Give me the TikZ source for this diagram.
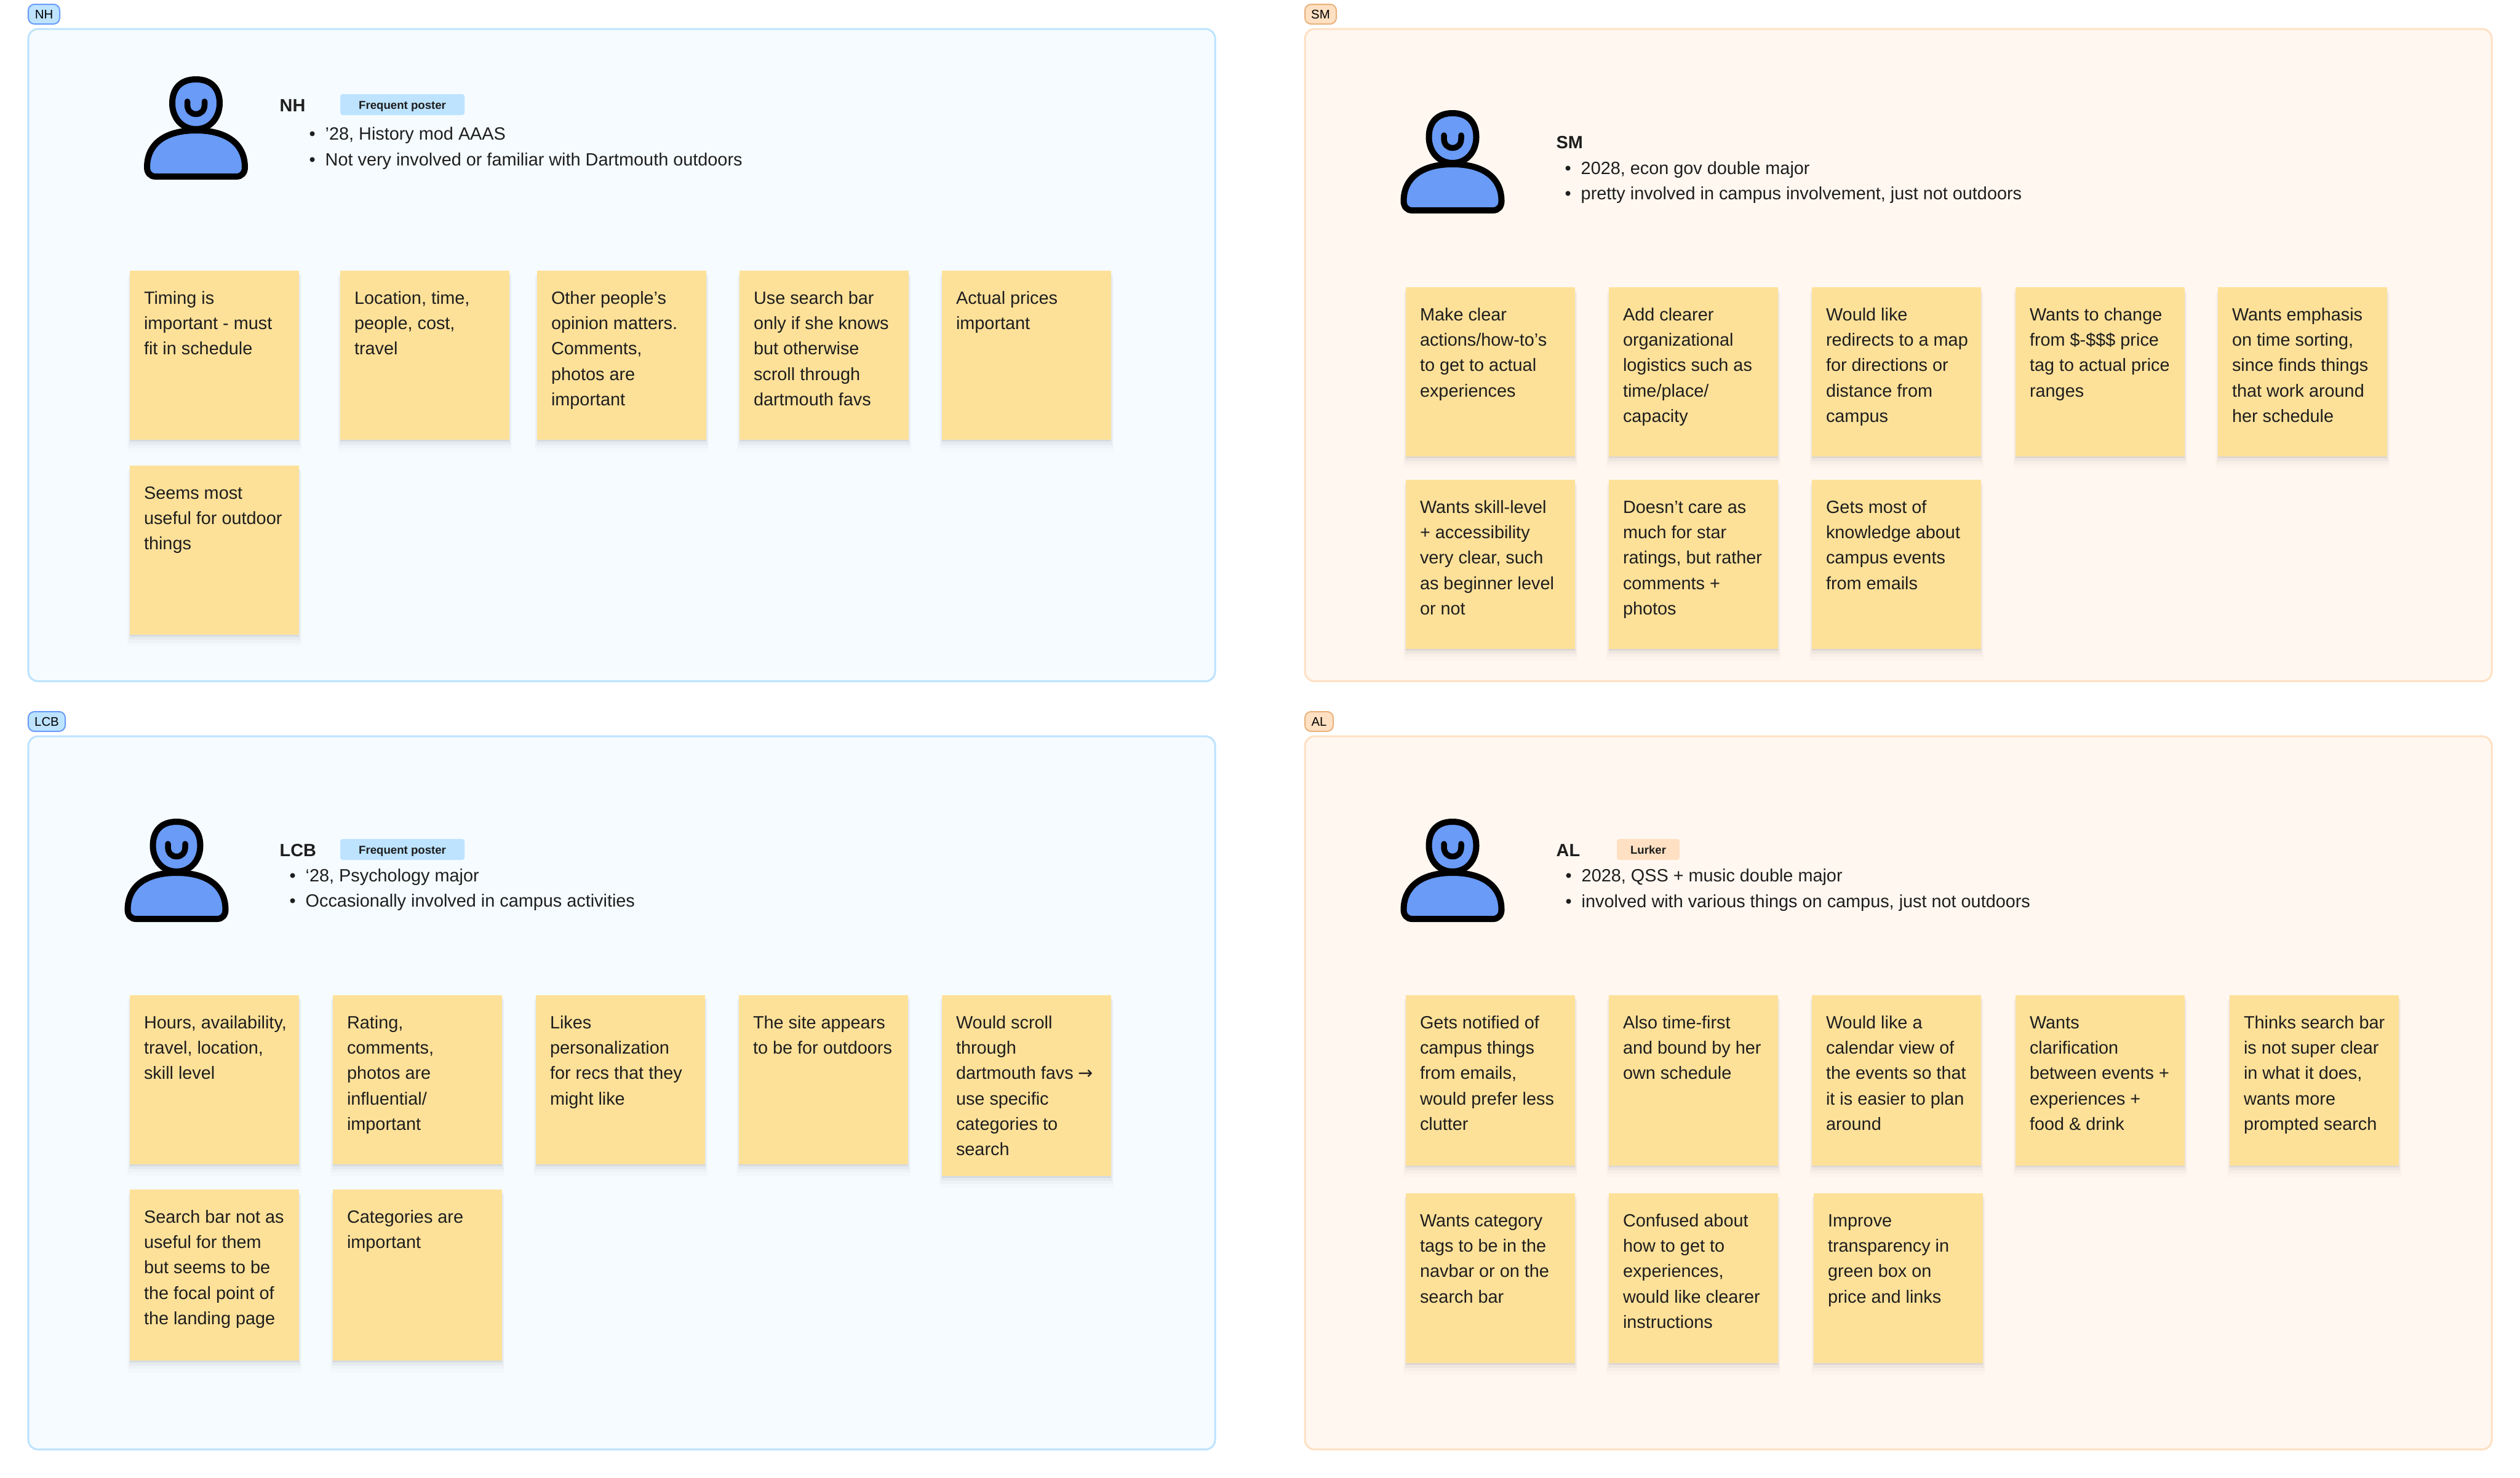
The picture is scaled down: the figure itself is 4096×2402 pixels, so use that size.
\documentclass[tikz,border=0pt]{standalone}
\usepackage{fontspec}
\setmainfont{Liberation Sans}
\newfontfamily\arrowfont{DejaVu Sans}
\usetikzlibrary{shadows}

\definecolor{inkcol}{HTML}{1E1E1E}
\definecolor{notefill}{HTML}{FEE199}
\definecolor{bluefill}{HTML}{F5FBFF}
\definecolor{blueedge}{HTML}{BDE3FF}
\definecolor{orangefill}{HTML}{FFF7F0}
\definecolor{orangeedge}{HTML}{FFE0C2}
\definecolor{iconblue}{HTML}{699BF7}

% text block of a sticky note, top aligned
\newcommand{\notetext}[2][2.75cm]{\parbox[c][#1][t]{2.75cm}{\raggedright\leftskip=.23cm\rule{0pt}{.54cm}#2}}

\tikzset{
    personicon/.pic={
        \draw[black, fill=iconblue, line width=.1cm]
            (0,5) .. controls (25,5) and (38.5,20) .. (38.5,44)
            .. controls (38.5,66) and (24,86) .. (0,86)
            .. controls (-24,86) and (-38.5,66) .. (-38.5,44)
            .. controls (-38.5,20) and (-25,5) .. (0,5) -- cycle;
        \draw[black, line width=.095cm, line cap=round]
            (-14,41) -- (-14,46) .. controls (-14,56) and (-8,61.5) .. (0,61.5)
            .. controls (8,61.5) and (14,56) .. (14,46) -- (14,41);
        \draw[black, fill=iconblue, line width=.1cm]
            (-66,163) -- (66,163) .. controls (74,163) and (79.5,157) .. (79.5,148)
            .. controls (79.5,110) and (50,88) .. (0,88)
            .. controls (-50,88) and (-79.5,110) .. (-79.5,148)
            .. controls (-79.5,157) and (-74,163) .. (-66,163) -- cycle;
    }
}

\begin{document}
\begin{tikzpicture}[
    x=.01cm, y=-.01cm,
    panel/.style    = {rectangle, rounded corners=.16cm, line width=.03cm, outer sep=0pt,
                       anchor=north west, minimum width=19.28cm},
    bluepanel/.style   = {panel, fill=bluefill, draw=blueedge},
    orangepanel/.style = {panel, fill=orangefill, draw=orangeedge},
    tagbox/.style   = {rectangle, rounded corners=.1cm, line width=.02cm, anchor=north west,
                       outer sep=0pt, minimum height=.32cm, inner sep=0pt, text=black,
                       font=\fontsize{5.8}{7}\selectfont},
    bluetag/.style   = {tagbox, fill=blueedge, draw=iconblue},
    orangetag/.style = {tagbox, fill=orangeedge, draw=orange!40!brown!60},
    badge/.style    = {rectangle, rounded corners=.04cm, anchor=north west, inner sep=0pt,
                       outer sep=0pt, minimum height=.34cm, text=inkcol,
                       text height=.17cm, text depth=.03cm,
                       font=\fontsize{5.3}{7}\selectfont\bfseries},
    namelabel/.style = {anchor=base west, inner sep=0pt, text=inkcol,
                       font=\fontsize{8.2}{10}\selectfont\bfseries},
    infoline/.style = {anchor=base west, inner sep=0pt, text=inkcol,
                       font=\fontsize{8.2}{10}\selectfont},
    note/.style     = {rectangle, fill=notefill, anchor=north west, text=inkcol,
                       inner sep=0pt, outer sep=0pt, align=left,
                       font=\fontsize{8.2}{11.75}\selectfont,
                       drop shadow={shadow xshift=0cm, shadow yshift=-.03cm, shadow scale=1, opacity=.06, fill=black},
                       drop shadow={shadow xshift=0cm, shadow yshift=-.06cm, shadow scale=1.01, opacity=.035, fill=black},
                       drop shadow={shadow xshift=0cm, shadow yshift=-.1cm, shadow scale=1.02, opacity=.02, fill=black},
                       drop shadow={shadow xshift=0cm, shadow yshift=-.14cm, shadow scale=1.03, opacity=.012, fill=black}}
]
\useasboundingbox (0,0) rectangle (4096,2402);

%% ---- PANELS ----
\node[bluepanel, minimum height=10.6cm]   (nhpanel)  at (46,47)     {};
\node[orangepanel, minimum height=10.6cm] (smpanel)  at (2121,47)   {};
\node[bluepanel, minimum height=11.59cm]  (lcbpanel) at (46,1197)   {};
\node[orangepanel, minimum height=11.59cm] (alpanel) at (2121,1197) {};

%% ---- TAGS above the panels ----
\node[bluetag, minimum width=.51cm]   (nhtag)  at (46,7)     {NH};
\node[orangetag, minimum width=.51cm] (smtag)  at (2121,7)   {SM};
\node[bluetag, minimum width=.6cm]    (lcbtag) at (46,1157)  {LCB};
\node[orangetag, minimum width=.46cm] (altag)  at (2121,1157) {AL};

%% ---- PERSON ICONS ----
\pic at (318.5,124)  {personicon};
\pic at (2361,179)   {personicon};
\pic at (287,1331)   {personicon};
\pic at (2361,1331)  {personicon};

%% ---- NH header ----
\node[namelabel] (nhname) at (454,181) {NH};
\node[badge, fill=blueedge, minimum width=2.02cm] (nhbadge) at (553,153) {Frequent poster};
\node[infoline] (nhinfoa) at (528,227) {\llap{•\hspace{.16cm}}’28, History mod AAAS};
\node[infoline] (nhinfob) at (528,269) {\llap{•\hspace{.16cm}}Not very involved or familiar with Dartmouth outdoors};

%% ---- SM header ----
\node[namelabel] (smname) at (2529,241) {SM};
\node[infoline] (sminfoa) at (2569,283) {\llap{•\hspace{.16cm}}2028, econ gov double major};
\node[infoline] (sminfob) at (2569,324) {\llap{•\hspace{.16cm}}pretty involved in campus involvement, just not outdoors};

%% ---- LCB header ----
\node[namelabel] (lcbname) at (454,1392) {LCB};
\node[badge, fill=blueedge, minimum width=2.02cm] (lcbbadge) at (553,1364) {Frequent poster};
\node[infoline] (lcbinfoa) at (496,1433) {\llap{•\hspace{.16cm}}‘28, Psychology major};
\node[infoline] (lcbinfob) at (496,1474) {\llap{•\hspace{.16cm}}Occasionally involved in campus activities};

%% ---- AL header ----
\node[namelabel] (alname) at (2529,1392) {AL};
\node[badge, fill=orangeedge, minimum width=1.02cm] (albadge) at (2628,1364) {Lurker};
\node[infoline] (alinfoa) at (2570,1433) {\llap{•\hspace{.16cm}}2028, QSS + music double major};
\node[infoline] (alinfob) at (2570,1475) {\llap{•\hspace{.16cm}}involved with various things on campus, just not outdoors};

%% ---- NH notes ----
\node[note] (nhnotea) at (211,440)  {\notetext{Timing is\\important - must\\fit in schedule}};
\node[note] (nhnoteb) at (553,440)  {\notetext{Location, time,\\people, cost,\\travel}};
\node[note] (nhnotec) at (873,440)  {\notetext{Other people’s\\opinion matters.\\Comments,\\photos are\\important}};
\node[note] (nhnoted) at (1202,440) {\notetext{Use search bar\\only if she knows\\but otherwise\\scroll through\\dartmouth favs}};
\node[note] (nhnotee) at (1531,440) {\notetext{Actual prices\\important}};
\node[note] (nhnotef) at (211,757)  {\notetext{Seems most\\useful for outdoor\\things}};

%% ---- SM notes ----
\node[note] (smnotea) at (2285,467) {\notetext{Make clear\\actions/how-to’s\\to get to actual\\experiences}};
\node[note] (smnoteb) at (2615,467) {\notetext{Add clearer\\organizational\\logistics such as\\time/place/\\capacity}};
\node[note] (smnotec) at (2945,467) {\notetext{Would like\\redirects to a map\\for directions or\\distance from\\campus}};
\node[note] (smnoted) at (3276,467) {\notetext{Wants to change\\from \$-\$\$\$ price\\tag to actual price\\ranges}};
\node[note] (smnotee) at (3605,467) {\notetext{Wants emphasis\\on time sorting,\\since finds things\\that work around\\her schedule}};
\node[note] (smnotef) at (2285,780) {\notetext{Wants skill-level\\+ accessibility\\very clear, such\\as beginner level\\or not}};
\node[note] (smnoteg) at (2615,780) {\notetext{Doesn’t care as\\much for star\\ratings, but rather\\comments +\\photos}};
\node[note] (smnoteh) at (2945,780) {\notetext{Gets most of\\knowledge about\\campus events\\from emails}};

%% ---- LCB notes ----
\node[note] (lcbnotea) at (211,1618)  {\notetext{Hours, availability,\\travel, location,\\skill level}};
\node[note] (lcbnoteb) at (541,1618)  {\notetext{Rating,\\comments,\\photos are\\influential/\\important}};
\node[note] (lcbnotec) at (871,1618)  {\notetext{Likes\\personalization\\for recs that they\\might like}};
\node[note] (lcbnoted) at (1201,1618) {\notetext{The site appears\\to be for outdoors}};
\node[note] (lcbnotee) at (1531,1618) {\notetext[2.94cm]{Would scroll\\through\\dartmouth favs {\arrowfont →}\\use specific\\categories to\\search}};
\node[note] (lcbnotef) at (211,1934)  {\notetext[2.78cm]{Search bar not as\\useful for them\\but seems to be\\the focal point of\\the landing page}};
\node[note] (lcbnoteg) at (541,1934)  {\notetext[2.78cm]{Categories are\\important}};

%% ---- AL notes ----
\node[note] (alnotea) at (2285,1618) {\notetext[2.77cm]{Gets notified of\\campus things\\from emails,\\would prefer less\\clutter}};
\node[note] (alnoteb) at (2615,1618) {\notetext[2.77cm]{Also time-first\\and bound by her\\own schedule}};
\node[note] (alnotec) at (2945,1618) {\notetext[2.77cm]{Would like a\\calendar view of\\the events so that\\it is easier to plan\\around}};
\node[note] (alnoted) at (3276,1618) {\notetext[2.77cm]{Wants\\clarification\\between events +\\experiences +\\food \& drink}};
\node[note] (alnotee) at (3624,1618) {\notetext[2.77cm]{Thinks search bar\\is not super clear\\in what it does,\\wants more\\prompted search}};
\node[note] (alnotef) at (2285,1940) {\notetext[2.76cm]{Wants category\\tags to be in the\\navbar or on the\\search bar}};
\node[note] (alnoteg) at (2615,1940) {\notetext[2.76cm]{Confused about\\how to get to\\experiences,\\would like clearer\\instructions}};
\node[note] (alnoteh) at (2948,1940) {\notetext[2.76cm]{Improve\\transparency in\\green box on\\price and links}};

\end{tikzpicture}
\end{document}
